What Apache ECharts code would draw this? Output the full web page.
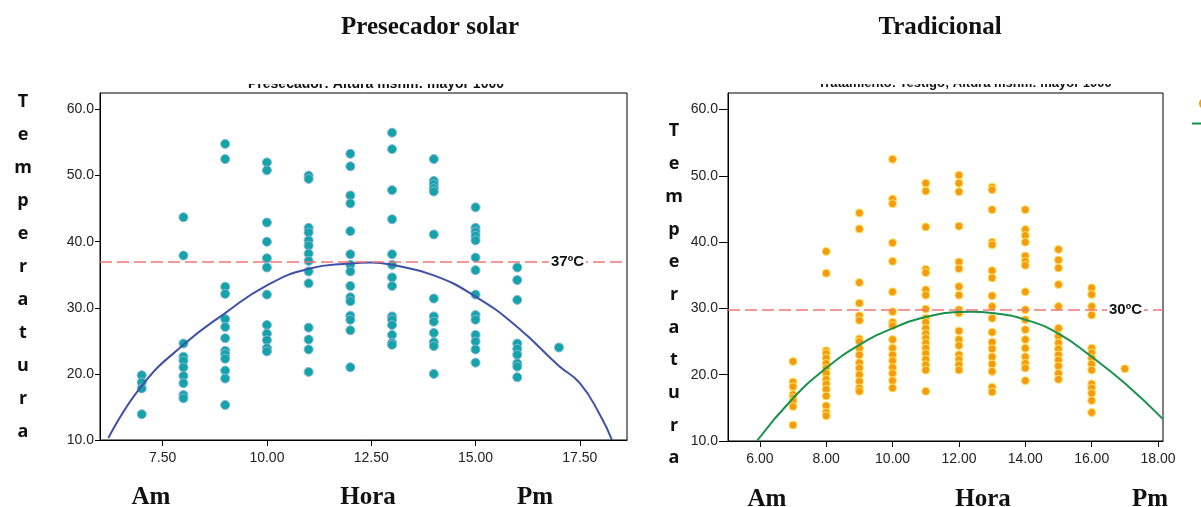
<!DOCTYPE html>
<html>
<head>
<meta charset="utf-8">
<script src="https://cdn.jsdelivr.net/npm/echarts@6/dist/echarts.min.js"></script>
<style>
  html, body { margin: 0; padding: 0; background: #fff; }
  #chart { width: 1201px; height: 507px; }
</style>
</head>
<body>
<div id="chart"></div>
<script>
// horas de medicion (eje x)
const horas = [7, 8, 9, 10, 11, 12, 13, 14, 15, 16, 17];

// temperaturas leidas - presecador solar
const solarTemps = [
  [19.8, 18.7, 17.8, 13.9],
  [43.7, 37.9, 24.6, 22.6, 22.0, 21.0, 19.7, 18.6, 16.8, 16.3],
  [54.8, 52.5, 33.2, 32.1, 28.3, 27.1, 25.4, 23.5, 23.0, 22.3, 20.5, 19.3, 15.3],
  [52.0, 50.8, 42.9, 40.0, 37.5, 36.1, 32.0, 27.4, 26.1, 25.1, 23.9, 23.4],
  [50.0, 49.5, 42.1, 41.4, 40.2, 39.4, 38.2, 37.1, 35.5, 33.7, 27.0, 25.2, 23.7, 20.3],
  [53.3, 51.4, 47.0, 45.8, 41.6, 38.1, 36.5, 35.5, 33.3, 31.6, 31.0, 28.8, 28.2, 26.6, 21.0],
  [56.5, 54.0, 47.8, 43.4, 38.1, 36.5, 34.6, 33.3, 28.7, 28.2, 27.4, 25.9, 24.7, 24.4],
  [52.5, 49.2, 48.7, 48.1, 47.6, 41.1, 31.4, 28.7, 27.9, 26.2, 24.8, 24.2, 20.0],
  [45.2, 42.1, 41.5, 40.9, 40.2, 37.6, 35.7, 32.0, 28.9, 28.2, 25.9, 24.9, 23.7, 21.7],
  [36.1, 34.2, 31.2, 24.6, 23.8, 22.9, 21.6, 21.1, 19.5],
  [24.0]
];

// temperaturas leidas - tradicional
const tradTemps = [
  [22.0, 18.9, 18.2, 17.0, 16.5, 16.0, 15.2, 12.4],
  [38.6, 35.3, 23.6, 23.2, 22.5, 21.7, 21.0, 20.2, 19.3, 18.6, 17.8, 16.8, 15.3, 14.3, 13.8],
  [44.4, 42.0, 33.9, 30.8, 28.9, 28.2, 25.4, 25.0, 24.0, 23.0, 21.8, 21.0, 20.0, 19.0, 18.0, 17.5],
  [52.5, 46.5, 45.8, 39.9, 37.1, 32.5, 29.5, 27.9, 27.4, 25.3, 24.0, 23.0, 22.1, 21.1, 20.2, 19.1, 18.0],
  [48.9, 47.7, 42.3, 35.9, 35.4, 32.8, 32.0, 29.9, 28.5, 27.9, 27.0, 26.2, 25.5, 24.8, 24.0, 23.2, 22.3, 21.5, 20.7, 17.5],
  [50.1, 48.9, 47.6, 42.4, 37.0, 36.0, 33.3, 32.0, 29.8, 29.3, 26.6, 25.3, 24.4, 23.0, 22.3, 21.5, 20.7],
  [48.3, 47.9, 44.9, 40.0, 39.6, 35.7, 34.6, 31.9, 30.3, 28.5, 26.4, 24.9, 23.9, 22.7, 21.6, 20.5, 18.1, 17.4],
  [44.9, 41.9, 41.0, 40.0, 37.9, 37.1, 36.5, 32.5, 29.8, 28.3, 26.8, 25.3, 24.0, 22.7, 21.7, 21.0, 19.1],
  [38.9, 37.3, 36.1, 33.6, 30.3, 27.0, 25.8, 24.8, 23.9, 23.0, 22.2, 21.3, 20.2, 19.3],
  [33.1, 32.1, 30.3, 29.0, 24.0, 23.3, 22.5, 21.6, 20.7, 18.6, 18.0, 17.2, 16.1, 14.3],
  [20.9]
];

// curvas de ajuste cuadratico
const solarFit = [[6.2, 10.3], [7, 18.2], [8, 24.4], [9, 29.2], [10, 33.4], [11, 35.9], [12, 36.7],
  [12.5, 36.85], [13, 36.5], [14, 34.9], [15, 31.7], [16, 27.1], [17, 21.2], [17.5, 18.6], [18, 13.6], [18.27, 10]];
const tradFit = [[5.91, 10], [7, 16.45], [8, 21.0], [9, 24.5], [10, 27.0], [11, 28.7], [12, 29.45],
  [12.34, 29.5], [13, 29.3], [14, 28.3], [15, 26.2], [16, 22.7], [17, 18.7], [18.15, 13.3]];

// lineas de referencia
const solarRef = 37;
const tradRef = 29.8;

// ticks
const solarXTicks = [7.5, 10, 12.5, 15, 17.5];
const tradXTicks = [6, 8, 10, 12, 14, 16, 18];
const yTicks = [10, 20, 30, 40, 50, 60];

function toPoints(temps) {
  const pts = [];
  temps.forEach((col, i) => col.forEach(t => pts.push([horas[i], t])));
  return pts;
}

const letras = 'Temperatura'.split('').join('\n');
const serif = 'Liberation Serif';
const tituloStyle = { fontFamily: serif, fontWeight: 'bold', fontSize: 25, color: '#111' };

function xAxisOf(idx, min, max, ticks) {
  return {
    gridIndex: idx, type: 'value', min: min, max: max,
    axisLine: { lineStyle: { color: '#000', width: 1 } },
    axisTick: { customValues: ticks, length: 6, lineStyle: { color: '#000' } },
    axisLabel: { customValues: ticks, formatter: v => v.toFixed(2), fontSize: 14, color: '#222',
      fontFamily: 'Liberation Sans', margin: 11 },
    splitLine: { show: false }
  };
}
function yAxisOf(idx, tickLen) {
  return {
    gridIndex: idx, type: 'value', min: 10, max: 62.5,
    axisLine: { lineStyle: { color: '#000', width: 1 } },
    axisTick: { customValues: yTicks, length: tickLen, lineStyle: { color: '#000' } },
    axisLabel: { customValues: yTicks, formatter: v => v.toFixed(1), fontSize: 14, color: '#222',
      fontFamily: 'Liberation Sans', margin: tickLen + 1 },
    splitLine: { show: false }
  };
}
function refLine(value, text, dist) {
  return {
    silent: true, symbol: 'none',
    lineStyle: { color: '#f07676', type: [12, 5], width: 1.5 },
    label: { show: true, position: 'end', distance: dist, formatter: text, fontWeight: 'bold',
      fontSize: 15, color: '#111', fontFamily: 'Liberation Sans', backgroundColor: '#fff', padding: [0, 2] },
    data: [{ yAxis: value }]
  };
}

const myChart = echarts.init(document.getElementById('chart'));
const option = {
  backgroundColor: '#fff',
  animation: false,
  title: [
    { text: 'Presecador solar', left: 425, top: 10, textAlign: 'center', textStyle: tituloStyle },
    { text: 'Tradicional', left: 935, top: 10, textAlign: 'center', textStyle: tituloStyle },
    { text: letras, left: 18, top: 80, textAlign: 'center',
      textStyle: { fontFamily: 'Open Sans', fontWeight: 'bold', fontSize: 18, lineHeight: 33, color: '#111' } },
    { text: letras, left: 669, top: 110, textAlign: 'center',
      textStyle: { fontFamily: 'Open Sans', fontWeight: 'bold', fontSize: 18, lineHeight: 32.7, color: '#111' } },
    { text: 'Am', left: 146, top: 480, textAlign: 'center', textStyle: tituloStyle },
    { text: 'Hora', left: 363, top: 480, textAlign: 'center', textStyle: tituloStyle },
    { text: 'Pm', left: 530, top: 480, textAlign: 'center', textStyle: tituloStyle },
    { text: 'Am', left: 762, top: 482, textAlign: 'center', textStyle: tituloStyle },
    { text: 'Hora', left: 978, top: 482, textAlign: 'center', textStyle: tituloStyle },
    { text: 'Pm', left: 1145, top: 482, textAlign: 'center', textStyle: tituloStyle }
  ],
  // subtitulos recortados de la figura original
  graphic: [
    { type: 'text', left: 248, top: 77, z: 1,
      style: { text: 'Presecador: Altura msnm: mayor 1000', font: 'bold 14px "Liberation Sans"', fill: '#111' } },
    { type: 'text', left: 818, top: 77, z: 1,
      style: { text: 'Tratamiento: Testigo; Altura msnm: mayor 1000', font: 'bold 13px "Liberation Sans"', fill: '#111' } },
    { type: 'rect', left: 200, top: 60, z: 2, shape: { width: 1000, height: 24 }, style: { fill: '#fff' } }
  ],
  legend: {
    left: 1186, top: 93, orient: 'vertical', itemWidth: 25, itemHeight: 9, itemGap: 10,
    textStyle: { fontSize: 8, lineHeight: 9 },
    data: [{ name: 'Temperatura', icon: 'circle', itemStyle: { borderColor: '#f59b13' } }, 'Cuadrático']
  },
  grid: [
    { left: 100, top: 93, width: 527, height: 347, show: true, borderColor: '#000', borderWidth: 1 },
    { left: 728, top: 93, width: 435, height: 348, show: true, borderColor: '#000', borderWidth: 1 }
  ],
  xAxis: [
    xAxisOf(0, 6, 18.63, solarXTicks),
    xAxisOf(1, 5.04, 18.15, tradXTicks)
  ],
  yAxis: [yAxisOf(0, 5), yAxisOf(1, 9)],
  series: [
    {
      name: 'Solar', type: 'scatter', xAxisIndex: 0, yAxisIndex: 0, symbolSize: 9,
      itemStyle: { color: '#13a4a6', borderColor: '#86b3e2', borderWidth: 1, opacity: 1 },
      data: toPoints(solarTemps),
      markLine: refLine(solarRef, '37ºC', -78)
    },
    {
      name: 'Ajuste solar', type: 'line', xAxisIndex: 0, yAxisIndex: 0, smooth: true, symbol: 'none',
      lineStyle: { color: '#3d51a8', width: 2 }, data: solarFit
    },
    {
      name: 'Temperatura', type: 'scatter', xAxisIndex: 1, yAxisIndex: 1, symbolSize: 8,
      itemStyle: { color: '#f59b13', borderColor: '#ffe45a', borderWidth: 1, opacity: 1 },
      data: toPoints(tradTemps),
      markLine: refLine(tradRef, '30ºC', -56)
    },
    {
      name: 'Cuadrático', type: 'line', xAxisIndex: 1, yAxisIndex: 1, smooth: true, symbol: 'none',
      lineStyle: { color: '#17924b', width: 2 }, itemStyle: { color: '#17924b' }, data: tradFit
    }
  ]
};
myChart.setOption(option);
window.onresize = myChart.resize;
</script>
</body>
</html>
